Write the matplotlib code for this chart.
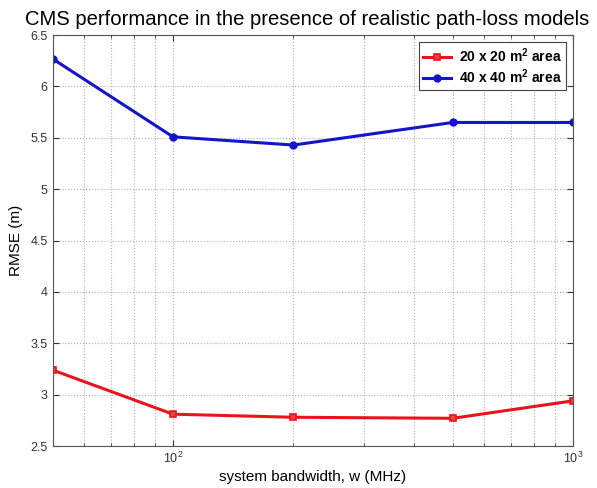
import numpy as np
import matplotlib
matplotlib.use('Agg')
import matplotlib.pyplot as plt
from matplotlib.ticker import LogLocator, NullFormatter

plt.rcParams['font.family'] = ['Liberation Sans', 'DejaVu Sans']
plt.rcParams['mathtext.fontset'] = 'custom'
plt.rcParams['mathtext.rm'] = 'Liberation Sans'
plt.rcParams['mathtext.bf'] = 'Liberation Sans:bold'

# Ancho de banda del sistema (MHz) y RMSE para cada área
bandwidth = [50, 100, 200, 500, 1000]
rmse_20 = [3.24, 2.81, 2.78, 2.77, 2.94]
rmse_40 = [6.27, 5.51, 5.43, 5.65, 5.65]
labels = [r'20 x 20 m$^\mathbf{2}$ area', r'40 x 40 m$^\mathbf{2}$ area']

fig = plt.figure(figsize=(5.97, 4.88), dpi=100)
ax = fig.add_axes([0.088, 0.086, 0.872, 0.842])

ax.plot(bandwidth, rmse_20, color='#e8141c', lw=2.2, marker='s', ms=5,
        mfc='#f04040', mec='#e8141c', mew=1.2, label=labels[0])
ax.plot(bandwidth, rmse_40, color='#1414c8', lw=2.2, marker='o', ms=5,
        mfc='#1414c8', mec='#1414c8', label=labels[1])

ax.set_xscale('log')
ax.set_xlim(50, 1000)
ax.set_ylim(2.5, 6.5)
ax.set_yticks(np.arange(2.5, 6.51, 0.5))
ax.set_yticklabels(['2.5', '3', '3.5', '4', '4.5', '5', '5.5', '6', '6.5'])
ax.xaxis.set_minor_locator(LogLocator(base=10, subs=np.arange(2, 10)))
ax.xaxis.set_minor_formatter(NullFormatter())

ax.grid(True, which='major', ls=':', color='#b0b0b0', lw=0.8)
ax.grid(True, which='minor', axis='x', ls=':', color='#b0b0b0', lw=0.8)
ax.tick_params(which='both', direction='in', labelsize=9, colors='#333333',
               top=True, right=True)
ax.tick_params(which='major', length=4)
ax.tick_params(which='minor', length=2.5)
for s in ax.spines.values():
    s.set_color('#555555')
    s.set_linewidth(0.8)

ax.set_xlabel('system bandwidth, w (MHz)', fontsize=11, labelpad=3)
ax.set_ylabel('RMSE (m)', fontsize=11, labelpad=5)
ax.set_title('CMS performance in the presence of realistic path-loss models',
             fontsize=14.6, pad=7, x=0.49)

leg = ax.legend(loc='upper right', fancybox=False, framealpha=1,
                edgecolor='#444444', borderpad=0.3, handlelength=2.0,
                labelspacing=0.15, handletextpad=0.6,
                borderaxespad=0.5, prop={'weight': 'bold', 'size': 10})
leg.get_frame().set_linewidth(0.8)

fig.savefig('out.png', dpi=100)
